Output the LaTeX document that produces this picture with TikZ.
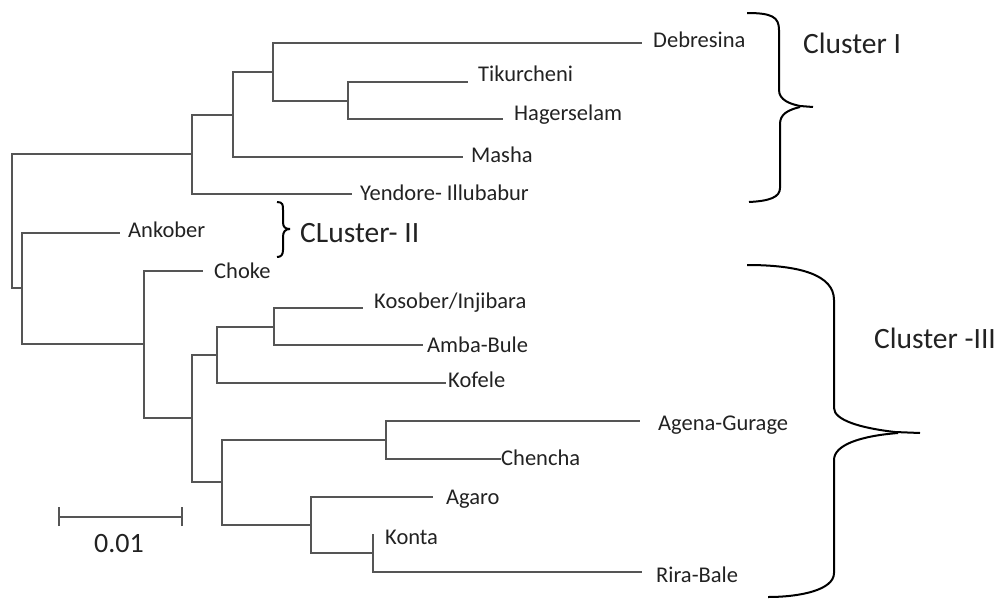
\documentclass[tikz,border=0pt]{standalone}
\usepackage{fontspec}
\setmainfont{Carlito}
\definecolor{treegray}{HTML}{555555}
\definecolor{txt}{HTML}{222222}
\begin{document}
\begin{tikzpicture}[x=1pt,y=-1pt,
  br/.style={draw=treegray,line width=2.2pt},
  lab/.style={anchor=base west,inner sep=0pt,font=\fontsize{22.5}{24}\selectfont,text=txt},
  clab/.style={anchor=base west,inner sep=0pt,font=\fontsize{29.5}{32}\selectfont,text=txt},
  bracestyle/.style={draw=black,line width=2pt,line join=round}]
\useasboundingbox (0,0) rectangle (1008,599);
% internal nodes
\coordinate (root) at (12,221);
\coordinate (A) at (192,154);
\coordinate (B) at (233,115);
\coordinate (C) at (273,72);
\coordinate (D) at (348,101);
\coordinate (E) at (22,288);
\coordinate (F) at (144,344);
\coordinate (G) at (192,418);
\coordinate (H) at (217,355);
\coordinate (I) at (274,327);
\coordinate (J) at (222,482);
\coordinate (K) at (386,440);
\coordinate (L) at (311,525);
\coordinate (M) at (373,553);
% tips
\coordinate (tDeb) at (642,43);
\coordinate (tTik) at (468,82);
\coordinate (tHag) at (503,119);
\coordinate (tMas) at (463,157);
\coordinate (tYen) at (352,194);
\coordinate (tAnk) at (120,233);
\coordinate (tCho) at (203,271);
\coordinate (tKos) at (363,308);
\coordinate (tAmb) at (423,345);
\coordinate (tKof) at (446,383);
\coordinate (tAge) at (640,421);
\coordinate (tChe) at (501,459);
\coordinate (tAga) at (433,497);
\coordinate (tKon) at (373,534);
\coordinate (tRir) at (642,572);
% branches
\draw[br] (root) |- (A);
\draw[br] (root) |- (E);
\draw[br] (A) |- (B);
\draw[br] (A) |- (tYen);
\draw[br] (B) |- (C);
\draw[br] (B) |- (tMas);
\draw[br] (C) |- (tDeb);
\draw[br] (C) |- (D);
\draw[br] (D) |- (tTik);
\draw[br] (D) |- (tHag);
\draw[br] (E) |- (tAnk);
\draw[br] (E) |- (F);
\draw[br] (F) |- (tCho);
\draw[br] (F) |- (G);
\draw[br] (G) |- (H);
\draw[br] (G) |- (J);
\draw[br] (H) |- (I);
\draw[br] (H) |- (tKof);
\draw[br] (I) |- (tKos);
\draw[br] (I) |- (tAmb);
\draw[br] (J) |- (K);
\draw[br] (J) |- (L);
\draw[br] (K) |- (tAge);
\draw[br] (K) |- (tChe);
\draw[br] (L) |- (tAga);
\draw[br] (L) |- (M);
\draw[br] (M) -- (tKon);
\draw[br] (M) |- (tRir);
% labels
\node[lab] (lDeb) at (653,48) {Debresina};
\node[lab] (lTik) at (478,82) {Tikurcheni};
\node[lab] (lHag) at (514,121) {Hagerselam};
\node[lab] (lMas) at (471,162) {Masha};
\node[lab] (lYen) at (360,200) {Yendore- Illubabur};
\node[lab] (lAnk) at (128,237) {Ankober};
\node[lab] (lCho) at (214,278) {Choke};
\node[lab] (lKos) at (374,308) {Kosober/Injibara};
\node[lab] (lAmb) at (427,352) {Amba-Bule};
\node[lab] (lKof) at (448,387) {Kofele};
\node[lab] (lAge) at (658,430) {Agena-Gurage};
\node[lab] (lChe) at (501,465) {Chencha};
\node[lab] (lAga) at (446,504) {Agaro};
\node[lab] (lKon) at (385,544) {Konta};
\node[lab] (lRir) at (656,582) {Rira-Bale};
% scale bar
\coordinate (sbL) at (59,517);
\coordinate (sbR) at (182,517);
\draw[br] (sbL) -- (sbR);
\draw[br] ([yshift=-9pt]sbL) -- ([yshift=10pt]sbL);
\draw[br] ([yshift=-9pt]sbR) -- ([yshift=10pt]sbR);
\node[anchor=base west,inner sep=0pt,font=\fontsize{28}{30}\selectfont,text=txt] (sblab) at (94,552) {0.01};
% braces
\draw[bracestyle] (747,13) .. controls (772,13) and (779,17) .. (779,30) -- (779,90)
  .. controls (779,100) and (790,104) .. (800,106) -- (813,107);
\draw[bracestyle] (800,107) .. controls (788,110) and (780,114) .. (780,124) -- (780,188)
  .. controls (780,197) and (770,201) .. (749,202);
\node[clab] (c1) at (803,54) {Cluster I};
\draw[bracestyle] (277,202) .. controls (283,202) and (283,205) .. (283,210) -- (283,222)
  .. controls (283,227) and (285,229) .. (290,229);
\draw[bracestyle] (290,229) .. controls (285,229) and (283,232) .. (283,237) -- (283,250)
  .. controls (283,255) and (281,257) .. (277,257);
\node[clab] (c2) at (300,242) {CLuster- II};
\draw[bracestyle] (747,265) .. controls (800,265) and (834,275) .. (834,300) -- (834,408)
  .. controls (834,420) and (860,428) .. (895,432) -- (920,433);
\draw[bracestyle] (898,433) .. controls (860,436) and (834,445) .. (834,460) -- (834,573)
  .. controls (834,590) and (800,597) .. (768,597);
\node[clab] (c3) at (874,348) {Cluster -III};
\end{tikzpicture}
\end{document}
